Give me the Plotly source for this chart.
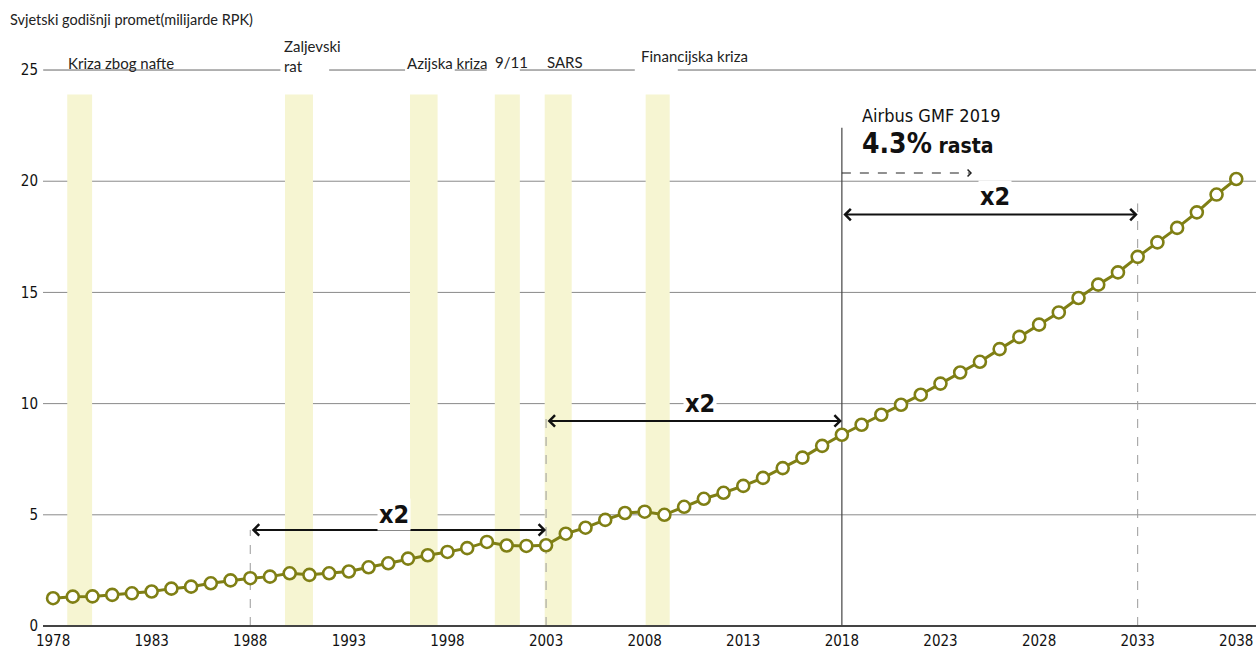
import plotly.graph_objects as go

# ---------------- data ----------------
years = list(range(1978, 2039))
rpk = [1.25, 1.32, 1.33, 1.40, 1.47, 1.55, 1.68, 1.77, 1.92, 2.05,
       2.15, 2.22, 2.37, 2.30, 2.37, 2.45, 2.64, 2.82, 3.03, 3.18,
       3.33, 3.50, 3.78, 3.62, 3.60, 3.63, 4.15, 4.42, 4.77, 5.08,
       5.14, 5.00, 5.36, 5.72, 5.99, 6.30, 6.66, 7.10, 7.57, 8.10,
       8.60, 9.05, 9.50, 9.95, 10.40, 10.90, 11.40, 11.88, 12.45, 13.00,
       13.55, 14.10, 14.75, 15.35, 15.90, 16.60, 17.25, 17.90, 18.60, 19.40,
       20.10]

crisis_names = ["Kriza zbog nafte", "Zaljevski<br>rat", "Azijska kriza", "9/11", "SARS", "Financijska kriza"]
crisis_start = [1978.72, 1989.76, 1996.10, 2000.40, 2002.93, 2008.05]
crisis_end = [1979.98, 1991.18, 1997.50, 2001.67, 2004.30, 2009.27]
crisis_top = 23.9
crisis_label_x = [1978.65, 1989.6, 1995.85, 2000.3, 2002.95, 2007.7]
crisis_label_y = [25.30, 25.62, 25.30, 25.34, 25.34, 25.62]

line25_start = [1977.5, 1992.0, 1998.37, 2001.67, 2009.68]
line25_end = [1989.53, 1995.85, 1999.99, 2007.50, 2039.5]

grid_vals = [5, 10, 15, 20]
ytick_vals = [0, 5, 10, 15, 20, 25]
xtick_vals = list(range(1978, 2039, 5))

# doubling arrows
dbl_start = [1988, 2003, 2018]
dbl_end = [2003, 2018, 2033]
dbl_y = [4.32, 9.22, 18.50]
dbl_label_x = [1995.3, 2010.8, 2025.75]
dbl_label_y = [5.0, 10.0, 19.3]
dashed_marks_x = [1988, 2003, 2033]
dashed_marks_top = [4.32, 9.5, 19.0]
forecast_x = 2018
forecast_top = 22.4
forecast_arrow_end = 2024.6
forecast_arrow_y = 20.37

OLIVE = "#7f7f14"
BAR = "#f6f5d2"
NARROW = "Liberation Sans Narrow, DejaVu Sans Condensed, Roboto Condensed, Roboto, sans-serif"
CAL = "Lato, Carlito, Calibri, sans-serif"

W, H = 1256, 651
ML, MR, MT, MB = 43, 0, 40, 25
PW, PH = W - ML - MR, H - MT - MB

fig = go.Figure()

shapes = []
for s, e in zip(crisis_start, crisis_end):
    shapes.append(dict(type="rect", xref="x", yref="y", x0=s, x1=e, y0=0, y1=crisis_top,
                       fillcolor=BAR, line=dict(width=0), layer="below"))
for g in grid_vals:
    shapes.append(dict(type="line", xref="paper", yref="y", x0=0, x1=1, y0=g, y1=g,
                       line=dict(color="#8a8a8a", width=1), layer="below"))
for s, e in zip(line25_start, line25_end):
    shapes.append(dict(type="line", xref="x", yref="y", x0=s, x1=e, y0=25, y1=25,
                       line=dict(color="#666666", width=1), layer="below"))
for xv, top in zip(dashed_marks_x, dashed_marks_top):
    shapes.append(dict(type="line", xref="x", yref="y", x0=xv, x1=xv, y0=0, y1=top,
                       line=dict(color="#9a9a9a", width=1, dash="dash"), layer="below"))
shapes.append(dict(type="line", xref="x", yref="y", x0=forecast_x, x1=forecast_x, y0=0, y1=forecast_top,
                   line=dict(color="#444444", width=1.2), layer="below"))
shapes.append(dict(type="line", xref="x", yref="y", x0=forecast_x, x1=forecast_arrow_end - 0.15,
                   y0=forecast_arrow_y, y1=forecast_arrow_y,
                   line=dict(color="#222222", width=1.2, dash="dash")))

fig.add_trace(go.Scatter(
    x=years, y=rpk, mode="lines+markers",
    line=dict(color=OLIVE, width=3),
    marker=dict(size=12, color="white", line=dict(color=OLIVE, width=2.6)),
    hoverinfo="x+y", showlegend=False))

ann = []
ann.append(dict(text="Svjetski godišnji promet(milijarde RPK)", xref="paper", yref="paper",
                x=-(ML - 8) / PW, y=1 + (MT - 20) / PH, xanchor="left", yanchor="middle", showarrow=False,
                font=dict(family=CAL, size=14.5, color="#222222")))
for name, lx, ly in zip(crisis_names, crisis_label_x, crisis_label_y):
    ann.append(dict(text=name, xref="x", yref="y", x=lx, y=ly, xanchor="left", yanchor="middle",
                    align="left", showarrow=False, font=dict(family=CAL, size=15, color="#222222")))
for s, e, yv, lx, ly in zip(dbl_start, dbl_end, dbl_y, dbl_label_x, dbl_label_y):
    ann.append(dict(text="", x=e, y=yv, ax=s, ay=yv, xref="x", yref="y", axref="x", ayref="y",
                    showarrow=True, arrowhead=4, startarrowhead=4, arrowside="end+start",
                    arrowsize=1.1, startarrowsize=1.1, arrowwidth=2, arrowcolor="#111111"))
    ann.append(dict(text="<b>x2</b>", x=lx, y=ly, xref="x", yref="y", showarrow=False,
                    bgcolor="white", borderpad=1,
                    font=dict(family=NARROW, size=25, color="#111111")))
# head of the forecast dashed arrow
ann.append(dict(text="", x=forecast_arrow_end, y=forecast_arrow_y, ax=forecast_arrow_end - 0.2,
                ay=forecast_arrow_y, xref="x", yref="y", axref="x", ayref="y",
                showarrow=True, arrowhead=4, arrowsize=1.1, arrowwidth=1.2, arrowcolor="#222222"))
ann.append(dict(text="Airbus GMF 2019", x=2018.9, y=(626 - 115) / 22.24, xref="x", yref="y",
                xanchor="left", yanchor="middle", showarrow=False,
                font=dict(family=NARROW, size=18, color="#111111")))
ann.append(dict(text="<b><span style='font-size:28px'>4.3%</span> rasta</b>", x=2018.9, y=(626 - 143) / 22.24,
                xref="x", yref="y", xanchor="left", yanchor="middle", showarrow=False,
                font=dict(family=NARROW, size=21, color="#111111")))

fig.update_layout(
    width=W, height=H,
    margin=dict(l=ML, r=MR, t=MT, b=MB),
    plot_bgcolor="white", paper_bgcolor="white",
    shapes=shapes, annotations=ann,
    xaxis=dict(range=[1977.49, 2039.0], tickvals=xtick_vals, showgrid=False, zeroline=False,
               showline=False, ticks="", ticklabelstandoff=4,
               tickfont=dict(family=NARROW, size=15, color="#111111")),
    yaxis=dict(range=[0, 26.35], tickvals=ytick_vals, showgrid=False, zeroline=True,
               zerolinecolor="#444444", zerolinewidth=1.5, showline=False, ticks="",
               ticklabelstandoff=4,
               tickfont=dict(family=NARROW, size=15, color="#111111")),
)

fig.write_html("out.html", config={"displayModeBar": False},
               post_script="document.body.style.margin='0';document.body.style.overflow='hidden';")
